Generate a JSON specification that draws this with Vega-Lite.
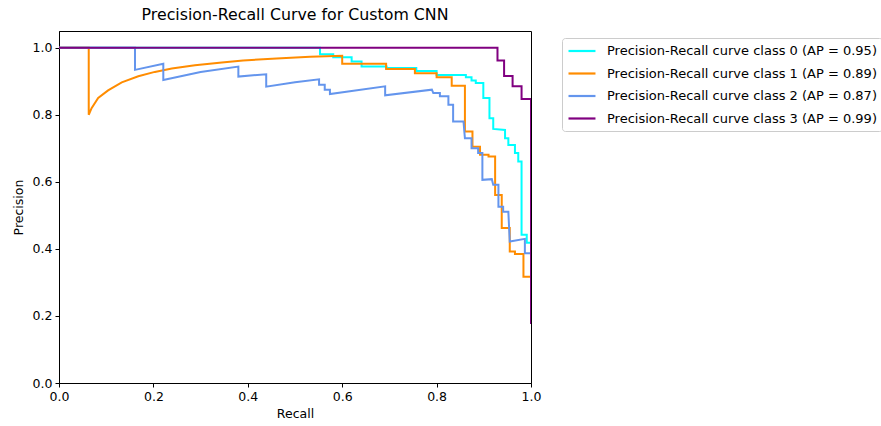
{
  "$schema": "https://vega.github.io/schema/vega-lite/v6.json",
  "width": 472,
  "height": 352,
  "autosize": "none",
  "padding": {"left": 59, "top": 31, "right": 350, "bottom": 43},
  "background": "white",
  "config": {
    "font": "DejaVu Sans",
    "view": {"stroke": "black", "strokeWidth": 1},
    "axis": {"grid": false, "domainColor": "black", "tickColor": "black", "labelColor": "black", "titleColor": "black", "labelFontSize": 12.5, "titleFontSize": 12.5, "titleFontWeight": "normal", "tickSize": 4, "labelPadding": 3, "labelFlush": false}
  },
  "title": {"text": "Precision-Recall Curve for Custom CNN", "fontSize": 15.8, "fontWeight": "normal", "color": "black", "offset": 7, "anchor": "middle"},
  "data": {"values": [
    {"c": "Precision-Recall curve class 0 (AP = 0.95)", "i": 0, "r": 0, "p": 1},
    {"c": "Precision-Recall curve class 0 (AP = 0.95)", "i": 1, "r": 0.553, "p": 1},
    {"c": "Precision-Recall curve class 0 (AP = 0.95)", "i": 2, "r": 0.553, "p": 0.981},
    {"c": "Precision-Recall curve class 0 (AP = 0.95)", "i": 3, "r": 0.581, "p": 0.981},
    {"c": "Precision-Recall curve class 0 (AP = 0.95)", "i": 4, "r": 0.581, "p": 0.972},
    {"c": "Precision-Recall curve class 0 (AP = 0.95)", "i": 5, "r": 0.62, "p": 0.972},
    {"c": "Precision-Recall curve class 0 (AP = 0.95)", "i": 6, "r": 0.62, "p": 0.959},
    {"c": "Precision-Recall curve class 0 (AP = 0.95)", "i": 7, "r": 0.641, "p": 0.959},
    {"c": "Precision-Recall curve class 0 (AP = 0.95)", "i": 8, "r": 0.641, "p": 0.944},
    {"c": "Precision-Recall curve class 0 (AP = 0.95)", "i": 9, "r": 0.694, "p": 0.944},
    {"c": "Precision-Recall curve class 0 (AP = 0.95)", "i": 10, "r": 0.694, "p": 0.94},
    {"c": "Precision-Recall curve class 0 (AP = 0.95)", "i": 11, "r": 0.757, "p": 0.94},
    {"c": "Precision-Recall curve class 0 (AP = 0.95)", "i": 12, "r": 0.757, "p": 0.931},
    {"c": "Precision-Recall curve class 0 (AP = 0.95)", "i": 13, "r": 0.8, "p": 0.931},
    {"c": "Precision-Recall curve class 0 (AP = 0.95)", "i": 14, "r": 0.8, "p": 0.919},
    {"c": "Precision-Recall curve class 0 (AP = 0.95)", "i": 15, "r": 0.862, "p": 0.919},
    {"c": "Precision-Recall curve class 0 (AP = 0.95)", "i": 16, "r": 0.862, "p": 0.912},
    {"c": "Precision-Recall curve class 0 (AP = 0.95)", "i": 17, "r": 0.874, "p": 0.912},
    {"c": "Precision-Recall curve class 0 (AP = 0.95)", "i": 18, "r": 0.874, "p": 0.902},
    {"c": "Precision-Recall curve class 0 (AP = 0.95)", "i": 19, "r": 0.883, "p": 0.902},
    {"c": "Precision-Recall curve class 0 (AP = 0.95)", "i": 20, "r": 0.883, "p": 0.895},
    {"c": "Precision-Recall curve class 0 (AP = 0.95)", "i": 21, "r": 0.899, "p": 0.895},
    {"c": "Precision-Recall curve class 0 (AP = 0.95)", "i": 22, "r": 0.899, "p": 0.85},
    {"c": "Precision-Recall curve class 0 (AP = 0.95)", "i": 23, "r": 0.912, "p": 0.85},
    {"c": "Precision-Recall curve class 0 (AP = 0.95)", "i": 24, "r": 0.912, "p": 0.79},
    {"c": "Precision-Recall curve class 0 (AP = 0.95)", "i": 25, "r": 0.92, "p": 0.79},
    {"c": "Precision-Recall curve class 0 (AP = 0.95)", "i": 26, "r": 0.92, "p": 0.758},
    {"c": "Precision-Recall curve class 0 (AP = 0.95)", "i": 27, "r": 0.945, "p": 0.755},
    {"c": "Precision-Recall curve class 0 (AP = 0.95)", "i": 28, "r": 0.945, "p": 0.73},
    {"c": "Precision-Recall curve class 0 (AP = 0.95)", "i": 29, "r": 0.952, "p": 0.73},
    {"c": "Precision-Recall curve class 0 (AP = 0.95)", "i": 30, "r": 0.952, "p": 0.71},
    {"c": "Precision-Recall curve class 0 (AP = 0.95)", "i": 31, "r": 0.966, "p": 0.71},
    {"c": "Precision-Recall curve class 0 (AP = 0.95)", "i": 32, "r": 0.966, "p": 0.686},
    {"c": "Precision-Recall curve class 0 (AP = 0.95)", "i": 33, "r": 0.973, "p": 0.686},
    {"c": "Precision-Recall curve class 0 (AP = 0.95)", "i": 34, "r": 0.973, "p": 0.661},
    {"c": "Precision-Recall curve class 0 (AP = 0.95)", "i": 35, "r": 0.98, "p": 0.661},
    {"c": "Precision-Recall curve class 0 (AP = 0.95)", "i": 36, "r": 0.98, "p": 0.442},
    {"c": "Precision-Recall curve class 0 (AP = 0.95)", "i": 37, "r": 0.991, "p": 0.442},
    {"c": "Precision-Recall curve class 0 (AP = 0.95)", "i": 38, "r": 0.991, "p": 0.418},
    {"c": "Precision-Recall curve class 0 (AP = 0.95)", "i": 39, "r": 1.0, "p": 0.418},
    {"c": "Precision-Recall curve class 1 (AP = 0.89)", "i": 0, "r": 0, "p": 1},
    {"c": "Precision-Recall curve class 1 (AP = 0.89)", "i": 1, "r": 0.063, "p": 1},
    {"c": "Precision-Recall curve class 1 (AP = 0.89)", "i": 2, "r": 0.063, "p": 0.8},
    {"c": "Precision-Recall curve class 1 (AP = 0.89)", "i": 3, "r": 0.069, "p": 0.82},
    {"c": "Precision-Recall curve class 1 (AP = 0.89)", "i": 4, "r": 0.083, "p": 0.85},
    {"c": "Precision-Recall curve class 1 (AP = 0.89)", "i": 5, "r": 0.104, "p": 0.873},
    {"c": "Precision-Recall curve class 1 (AP = 0.89)", "i": 6, "r": 0.133, "p": 0.897},
    {"c": "Precision-Recall curve class 1 (AP = 0.89)", "i": 7, "r": 0.168, "p": 0.915},
    {"c": "Precision-Recall curve class 1 (AP = 0.89)", "i": 8, "r": 0.203, "p": 0.928},
    {"c": "Precision-Recall curve class 1 (AP = 0.89)", "i": 9, "r": 0.239, "p": 0.938},
    {"c": "Precision-Recall curve class 1 (AP = 0.89)", "i": 10, "r": 0.288, "p": 0.948},
    {"c": "Precision-Recall curve class 1 (AP = 0.89)", "i": 11, "r": 0.345, "p": 0.956},
    {"c": "Precision-Recall curve class 1 (AP = 0.89)", "i": 12, "r": 0.39, "p": 0.962},
    {"c": "Precision-Recall curve class 1 (AP = 0.89)", "i": 13, "r": 0.461, "p": 0.968},
    {"c": "Precision-Recall curve class 1 (AP = 0.89)", "i": 14, "r": 0.532, "p": 0.973},
    {"c": "Precision-Recall curve class 1 (AP = 0.89)", "i": 15, "r": 0.6, "p": 0.976},
    {"c": "Precision-Recall curve class 1 (AP = 0.89)", "i": 16, "r": 0.6, "p": 0.952},
    {"c": "Precision-Recall curve class 1 (AP = 0.89)", "i": 17, "r": 0.693, "p": 0.952},
    {"c": "Precision-Recall curve class 1 (AP = 0.89)", "i": 18, "r": 0.693, "p": 0.937},
    {"c": "Precision-Recall curve class 1 (AP = 0.89)", "i": 19, "r": 0.754, "p": 0.937},
    {"c": "Precision-Recall curve class 1 (AP = 0.89)", "i": 20, "r": 0.754, "p": 0.924},
    {"c": "Precision-Recall curve class 1 (AP = 0.89)", "i": 21, "r": 0.8, "p": 0.924},
    {"c": "Precision-Recall curve class 1 (AP = 0.89)", "i": 22, "r": 0.8, "p": 0.912},
    {"c": "Precision-Recall curve class 1 (AP = 0.89)", "i": 23, "r": 0.832, "p": 0.912},
    {"c": "Precision-Recall curve class 1 (AP = 0.89)", "i": 24, "r": 0.832, "p": 0.887},
    {"c": "Precision-Recall curve class 1 (AP = 0.89)", "i": 25, "r": 0.86, "p": 0.887},
    {"c": "Precision-Recall curve class 1 (AP = 0.89)", "i": 26, "r": 0.86, "p": 0.75},
    {"c": "Precision-Recall curve class 1 (AP = 0.89)", "i": 27, "r": 0.876, "p": 0.75},
    {"c": "Precision-Recall curve class 1 (AP = 0.89)", "i": 28, "r": 0.876, "p": 0.705},
    {"c": "Precision-Recall curve class 1 (AP = 0.89)", "i": 29, "r": 0.892, "p": 0.705},
    {"c": "Precision-Recall curve class 1 (AP = 0.89)", "i": 30, "r": 0.892, "p": 0.681},
    {"c": "Precision-Recall curve class 1 (AP = 0.89)", "i": 31, "r": 0.91, "p": 0.681},
    {"c": "Precision-Recall curve class 1 (AP = 0.89)", "i": 32, "r": 0.91, "p": 0.676},
    {"c": "Precision-Recall curve class 1 (AP = 0.89)", "i": 33, "r": 0.924, "p": 0.676},
    {"c": "Precision-Recall curve class 1 (AP = 0.89)", "i": 34, "r": 0.924, "p": 0.561},
    {"c": "Precision-Recall curve class 1 (AP = 0.89)", "i": 35, "r": 0.938, "p": 0.561},
    {"c": "Precision-Recall curve class 1 (AP = 0.89)", "i": 36, "r": 0.938, "p": 0.462},
    {"c": "Precision-Recall curve class 1 (AP = 0.89)", "i": 37, "r": 0.955, "p": 0.462},
    {"c": "Precision-Recall curve class 1 (AP = 0.89)", "i": 38, "r": 0.955, "p": 0.392},
    {"c": "Precision-Recall curve class 1 (AP = 0.89)", "i": 39, "r": 0.966, "p": 0.392},
    {"c": "Precision-Recall curve class 1 (AP = 0.89)", "i": 40, "r": 0.966, "p": 0.385},
    {"c": "Precision-Recall curve class 1 (AP = 0.89)", "i": 41, "r": 0.984, "p": 0.385},
    {"c": "Precision-Recall curve class 1 (AP = 0.89)", "i": 42, "r": 0.984, "p": 0.317},
    {"c": "Precision-Recall curve class 1 (AP = 0.89)", "i": 43, "r": 1.0, "p": 0.317},
    {"c": "Precision-Recall curve class 2 (AP = 0.87)", "i": 0, "r": 0, "p": 1},
    {"c": "Precision-Recall curve class 2 (AP = 0.87)", "i": 1, "r": 0.161, "p": 1},
    {"c": "Precision-Recall curve class 2 (AP = 0.87)", "i": 2, "r": 0.161, "p": 0.934},
    {"c": "Precision-Recall curve class 2 (AP = 0.87)", "i": 3, "r": 0.221, "p": 0.952},
    {"c": "Precision-Recall curve class 2 (AP = 0.87)", "i": 4, "r": 0.221, "p": 0.904},
    {"c": "Precision-Recall curve class 2 (AP = 0.87)", "i": 5, "r": 0.3, "p": 0.928},
    {"c": "Precision-Recall curve class 2 (AP = 0.87)", "i": 6, "r": 0.38, "p": 0.944},
    {"c": "Precision-Recall curve class 2 (AP = 0.87)", "i": 7, "r": 0.38, "p": 0.914},
    {"c": "Precision-Recall curve class 2 (AP = 0.87)", "i": 8, "r": 0.439, "p": 0.921},
    {"c": "Precision-Recall curve class 2 (AP = 0.87)", "i": 9, "r": 0.439, "p": 0.884},
    {"c": "Precision-Recall curve class 2 (AP = 0.87)", "i": 10, "r": 0.5, "p": 0.897},
    {"c": "Precision-Recall curve class 2 (AP = 0.87)", "i": 11, "r": 0.551, "p": 0.906},
    {"c": "Precision-Recall curve class 2 (AP = 0.87)", "i": 12, "r": 0.551, "p": 0.89},
    {"c": "Precision-Recall curve class 2 (AP = 0.87)", "i": 13, "r": 0.563, "p": 0.89},
    {"c": "Precision-Recall curve class 2 (AP = 0.87)", "i": 14, "r": 0.563, "p": 0.875},
    {"c": "Precision-Recall curve class 2 (AP = 0.87)", "i": 15, "r": 0.574, "p": 0.875},
    {"c": "Precision-Recall curve class 2 (AP = 0.87)", "i": 16, "r": 0.574, "p": 0.862},
    {"c": "Precision-Recall curve class 2 (AP = 0.87)", "i": 17, "r": 0.691, "p": 0.885},
    {"c": "Precision-Recall curve class 2 (AP = 0.87)", "i": 18, "r": 0.691, "p": 0.858},
    {"c": "Precision-Recall curve class 2 (AP = 0.87)", "i": 19, "r": 0.79, "p": 0.875},
    {"c": "Precision-Recall curve class 2 (AP = 0.87)", "i": 20, "r": 0.793, "p": 0.865},
    {"c": "Precision-Recall curve class 2 (AP = 0.87)", "i": 21, "r": 0.807, "p": 0.865},
    {"c": "Precision-Recall curve class 2 (AP = 0.87)", "i": 22, "r": 0.807, "p": 0.855},
    {"c": "Precision-Recall curve class 2 (AP = 0.87)", "i": 23, "r": 0.825, "p": 0.855},
    {"c": "Precision-Recall curve class 2 (AP = 0.87)", "i": 24, "r": 0.825, "p": 0.83},
    {"c": "Precision-Recall curve class 2 (AP = 0.87)", "i": 25, "r": 0.835, "p": 0.83},
    {"c": "Precision-Recall curve class 2 (AP = 0.87)", "i": 26, "r": 0.835, "p": 0.78},
    {"c": "Precision-Recall curve class 2 (AP = 0.87)", "i": 27, "r": 0.857, "p": 0.78},
    {"c": "Precision-Recall curve class 2 (AP = 0.87)", "i": 28, "r": 0.86, "p": 0.73},
    {"c": "Precision-Recall curve class 2 (AP = 0.87)", "i": 29, "r": 0.874, "p": 0.73},
    {"c": "Precision-Recall curve class 2 (AP = 0.87)", "i": 30, "r": 0.874, "p": 0.7},
    {"c": "Precision-Recall curve class 2 (AP = 0.87)", "i": 31, "r": 0.888, "p": 0.7},
    {"c": "Precision-Recall curve class 2 (AP = 0.87)", "i": 32, "r": 0.888, "p": 0.686},
    {"c": "Precision-Recall curve class 2 (AP = 0.87)", "i": 33, "r": 0.897, "p": 0.686},
    {"c": "Precision-Recall curve class 2 (AP = 0.87)", "i": 34, "r": 0.897, "p": 0.606},
    {"c": "Precision-Recall curve class 2 (AP = 0.87)", "i": 35, "r": 0.917, "p": 0.608},
    {"c": "Precision-Recall curve class 2 (AP = 0.87)", "i": 36, "r": 0.92, "p": 0.591},
    {"c": "Precision-Recall curve class 2 (AP = 0.87)", "i": 37, "r": 0.931, "p": 0.591},
    {"c": "Precision-Recall curve class 2 (AP = 0.87)", "i": 38, "r": 0.931, "p": 0.526},
    {"c": "Precision-Recall curve class 2 (AP = 0.87)", "i": 39, "r": 0.941, "p": 0.526},
    {"c": "Precision-Recall curve class 2 (AP = 0.87)", "i": 40, "r": 0.941, "p": 0.511},
    {"c": "Precision-Recall curve class 2 (AP = 0.87)", "i": 41, "r": 0.952, "p": 0.511},
    {"c": "Precision-Recall curve class 2 (AP = 0.87)", "i": 42, "r": 0.955, "p": 0.422},
    {"c": "Precision-Recall curve class 2 (AP = 0.87)", "i": 43, "r": 0.987, "p": 0.43},
    {"c": "Precision-Recall curve class 2 (AP = 0.87)", "i": 44, "r": 0.987, "p": 0.387},
    {"c": "Precision-Recall curve class 2 (AP = 0.87)", "i": 45, "r": 1.0, "p": 0.387},
    {"c": "Precision-Recall curve class 3 (AP = 0.99)", "i": 0, "r": 0, "p": 1},
    {"c": "Precision-Recall curve class 3 (AP = 0.99)", "i": 1, "r": 0.929, "p": 1},
    {"c": "Precision-Recall curve class 3 (AP = 0.99)", "i": 2, "r": 0.929, "p": 0.962},
    {"c": "Precision-Recall curve class 3 (AP = 0.99)", "i": 3, "r": 0.943, "p": 0.962},
    {"c": "Precision-Recall curve class 3 (AP = 0.99)", "i": 4, "r": 0.943, "p": 0.916},
    {"c": "Precision-Recall curve class 3 (AP = 0.99)", "i": 5, "r": 0.961, "p": 0.916},
    {"c": "Precision-Recall curve class 3 (AP = 0.99)", "i": 6, "r": 0.961, "p": 0.885},
    {"c": "Precision-Recall curve class 3 (AP = 0.99)", "i": 7, "r": 0.98, "p": 0.885},
    {"c": "Precision-Recall curve class 3 (AP = 0.99)", "i": 8, "r": 0.98, "p": 0.847},
    {"c": "Precision-Recall curve class 3 (AP = 0.99)", "i": 9, "r": 1.0, "p": 0.847},
    {"c": "Precision-Recall curve class 3 (AP = 0.99)", "i": 10, "r": 1.0, "p": 0.176}
  ]},
  "mark": {"type": "line", "strokeWidth": 2, "clip": true},
  "encoding": {
    "x": {"field": "r", "type": "quantitative", "title": "Recall", "scale": {"domain": [0, 1], "nice": false, "zero": false}, "axis": {"values": [0, 0.2, 0.4, 0.6, 0.8, 1.0], "format": ".1f", "titlePadding": 5}},
    "y": {"field": "p", "type": "quantitative", "title": "Precision", "scale": {"domain": [0, 1.05], "nice": false}, "axis": {"values": [0, 0.2, 0.4, 0.6, 0.8, 1.0], "format": ".1f", "titlePadding": 7}},
    "color": {"field": "c", "type": "nominal", "title": null,
      "scale": {"domain": ["Precision-Recall curve class 0 (AP = 0.95)", "Precision-Recall curve class 1 (AP = 0.89)", "Precision-Recall curve class 2 (AP = 0.87)", "Precision-Recall curve class 3 (AP = 0.99)"], "range": ["#00ffff", "#ff8c00", "#6495ed", "#800080"]},
      "legend": {"orient": "none", "legendX": 503, "legendY": 7, "symbolType": "M-1,0H3.15", "symbolSize": 169, "symbolStrokeWidth": 2.2, "symbolFillColor": "transparent", "labelFontSize": 13, "labelColor": "black", "labelOffset": 24, "rowPadding": 7.5, "padding": 5, "strokeColor": "#cccccc", "fillColor": "white", "cornerRadius": 3, "labelLimit": 400}},
    "order": {"field": "i", "type": "quantitative"}
  }
}
